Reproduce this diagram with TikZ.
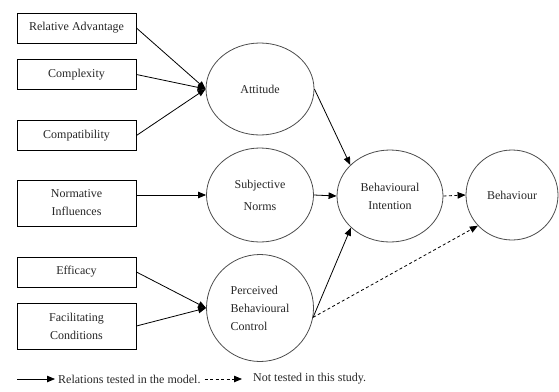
\documentclass[tikz,border=0pt]{standalone}
\usepackage{fontspec}
\setmainfont{Liberation Serif}
\usetikzlibrary{shapes.geometric,arrows.meta}
\begin{document}
\begin{tikzpicture}[x=1pt,y=-1pt,font=\fontsize{12}{18}\selectfont,text=black!85,
box/.style={draw,line width=0.9pt,align=center,minimum width=119pt,minimum height=30pt,inner sep=2pt},
oval/.style={draw=black!70,line width=0.8pt,ellipse,align=center,inner sep=0pt},
tested/.style={line width=0.8pt,-{Triangle[length=8pt,width=6.5pt]}},
untested/.style={tested,dash pattern=on 3pt off 2.5pt}]
\useasboundingbox (0,0) rectangle (559,391);
\node[box] (ra) at (76.5,28) {Relative Advantage};
\node[box] (cx) at (76.5,74.5) {Complexity};
\node[box] (cp) at (76.5,135.5) {Compatibility};
\node[box,minimum height=46pt] (ni) at (76.5,203) {Normative\\Influences};
\node[box] (ef) at (76.5,272) {Efficacy};
\node[box,minimum height=46pt] (fc) at (76.5,326) {Facilitating\\Conditions};
\node[oval,minimum width=108pt,minimum height=92pt] (att) at (260,89) {Attitude};
\node[oval,minimum width=107pt,minimum height=94pt] (sn) at (260,195) {Subjective\\[4pt]Norms};
\node[oval,minimum width=107pt,minimum height=107pt,align=left] (pbc) at (260,308) {Perceived\\Behavioural\\Control};
\node[oval,minimum width=106pt,minimum height=92pt] (bi) at (390,196) {Behavioural\\Intention};
\node[oval,minimum width=92pt,minimum height=90pt] (beh) at (512,195) {Behaviour};
\draw[tested] (ra.east)--(att.west);\draw[tested] (cx.east)--(att.west);\draw[tested] (cp.east)--(att.west);
\draw[tested] (ni.east |- sn.west)--(sn.west);
\draw[tested] (ef.east)--(pbc.west);\draw[tested] (fc.east)--(pbc.west);
\draw[tested] (att.east)--(bi.142);\draw[tested] (sn.east)--(bi.west);\draw[tested] (pbc.-10)--(bi.219);
\draw[untested] (bi.east)--(beh.west);\draw[untested] (pbc.-10)--(beh.222);
\coordinate (key1) at (17,379);
\node[anchor=west,inner sep=3pt] (keytxt1) at (55,379) {Relations tested in the model.};
\node[anchor=west,inner sep=3pt] (keytxt2) at (250,379) {Not tested in this study.};
\draw[tested] (key1)--(keytxt1.west);\draw[untested,shorten <=1pt,shorten >=8pt] (keytxt1.east)--(keytxt2.west);
\end{tikzpicture}
\end{document}
